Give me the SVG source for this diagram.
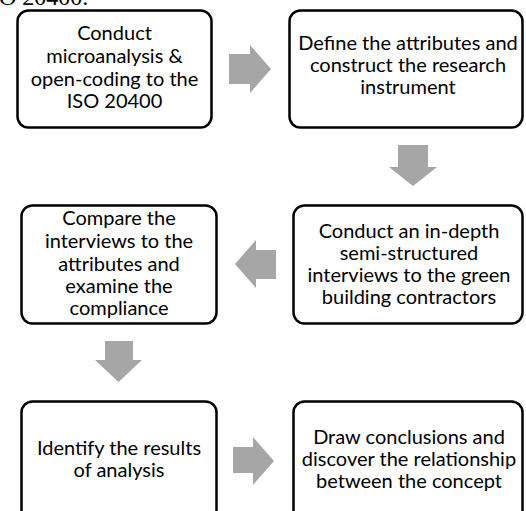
<svg xmlns="http://www.w3.org/2000/svg" width="526" height="511" viewBox="0 0 526 511">
<style>
.box{fill:#fff;stroke:#000;stroke-width:2.5}
.arr{fill:#a6a6a6}
.t{font-family:Lato,"Open Sans",sans-serif;font-size:20px;fill:#000;text-anchor:middle}
.cap{font-family:"Liberation Serif",serif;font-size:24px;fill:#000}
</style>
<rect width="526" height="511" fill="#fff"/>
<text class="cap" x="-1" y="5">O 20400.</text>
<g id="connectors">
<polygon class="arr" points="229,54 250,54 250,45 271,69 250,93 250,84 229,84"/>
<polygon class="arr" points="398,145 428,145 428,167 437,167 413,186 389,167 398,167"/>
<polygon class="arr" points="276,250 256,250 256,240 235,264 256,288 256,279 276,279"/>
<polygon class="arr" points="105,341 133,341 133,360 142,360 118.5,382 95,360 105,360"/>
<polygon class="arr" points="233,447 253,447 253,437 274,461 253,485 253,473 233,473"/>
</g>
<g id="n1">
<rect class="box" x="17.5" y="10.5" width="194" height="117" rx="11"/>
<text class="t" x="114.5" y="40">Conduct</text>
<text class="t" x="114.5" y="63">microanalysis &amp;</text>
<text class="t" x="114.5" y="86">open-coding to the</text>
<text class="t" x="114.5" y="108">ISO 20400</text>
</g>
<g id="n2">
<rect class="box" x="289.5" y="10.5" width="233" height="117" rx="11"/>
<text class="t" x="408" y="50">Define the attributes and</text>
<text class="t" x="408" y="72">construct the research</text>
<text class="t" x="408" y="94">instrument</text>
</g>
<g id="n3">
<rect class="box" x="21.5" y="205.5" width="195" height="118" rx="11"/>
<text class="t" x="119" y="225">Compare the</text>
<text class="t" x="119" y="248">interviews to the</text>
<text class="t" x="119" y="271">attributes and</text>
<text class="t" x="119" y="293">examine the</text>
<text class="t" x="119" y="315">compliance</text>
</g>
<g id="n4">
<rect class="box" x="293.5" y="205.5" width="229" height="118" rx="11"/>
<text class="t" x="409" y="238">Conduct an in-depth</text>
<text class="t" x="409" y="260">semi-structured</text>
<text class="t" x="409" y="282">interviews to the green</text>
<text class="t" x="409" y="304">building contractors</text>
</g>
<g id="n5">
<rect class="box" x="21.5" y="401.5" width="195" height="130" rx="11"/>
<text class="t" x="119" y="455">Identify the results</text>
<text class="t" x="119" y="477">of analysis</text>
</g>
<g id="n6">
<rect class="box" x="293.5" y="401.5" width="229" height="130" rx="11"/>
<text class="t" x="409" y="444">Draw conclusions and</text>
<text class="t" x="409" y="466">discover the relationship</text>
<text class="t" x="409" y="488">between the concept</text>
</g>
</svg>
